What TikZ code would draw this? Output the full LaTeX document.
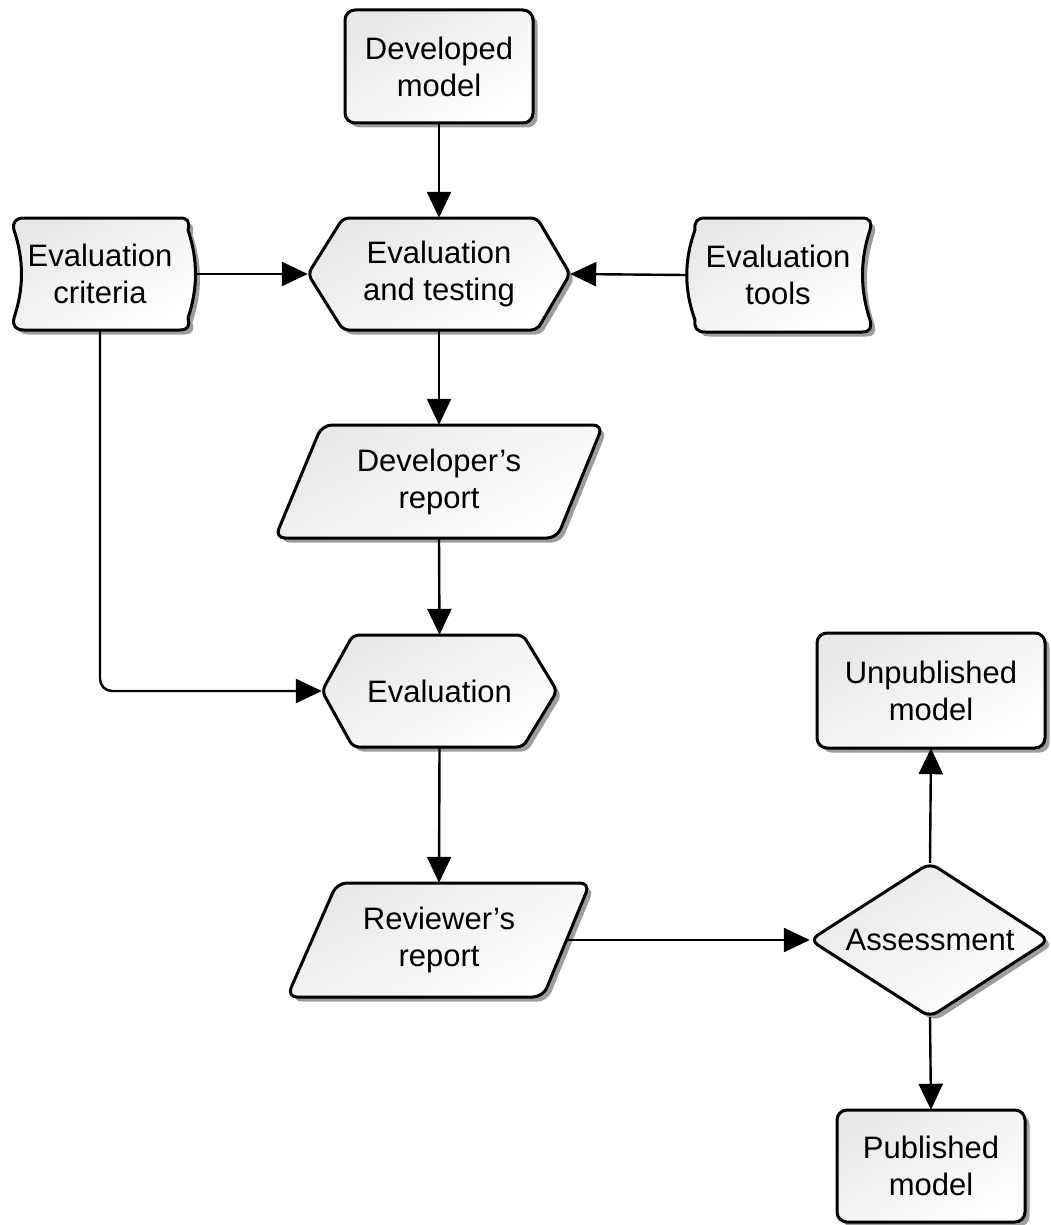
\documentclass[tikz,border=0pt]{standalone}
\usepackage{fontspec}
\setmainfont{Liberation Sans}
\usetikzlibrary{arrows.meta,shadows,calc}
\begin{document}
\begin{tikzpicture}[x=1pt,y=-1pt,
  shp/.style={draw=black, line width=3pt, line join=round,
    top color=black!9, bottom color=white, shading angle=30,
    drop shadow={shadow xshift=4.5pt, shadow yshift=-4.5pt, fill=black!45, opacity=0.85}},
  lbl/.style={font=\fontsize{31}{37}\selectfont, align=center, inner sep=0pt, draw=none},
  conn/.style={line width=2.4pt, -{Triangle[length=26pt,width=24pt]}}
]
\useasboundingbox (0,0) rectangle (1051,1225);

% ---- shapes ----
\path[shp, rounded corners=10pt] (345,10) rectangle (533,123);
\path[shp, rounded corners=6pt] (308,274) -- (343,218) -- (537,218) -- (570,274) -- (537,330) -- (343,330) -- cycle;
\path[shp] (24,218) -- (180,218) .. controls (188,218) and (190,222) .. (188,230)
  .. controls (198,260) and (198,288) .. (188,318) .. controls (190,326) and (188,330) .. (180,330)
  -- (24,330) .. controls (16,330) and (12,326) .. (14,318)
  .. controls (24,288) and (24,260) .. (14,230) .. controls (12,222) and (16,218) .. (24,218) -- cycle;
\path[shp] (705,218) -- (862,218) .. controls (870,218) and (872,222) .. (870,230)
  .. controls (860,260) and (860,290) .. (870,320) .. controls (872,328) and (870,332) .. (862,332)
  -- (705,332) .. controls (697,332) and (694,328) .. (695,320)
  .. controls (684,290) and (684,260) .. (695,230) .. controls (694,222) and (697,218) .. (705,218) -- cycle;
\path[shp, rounded corners=10pt] (322,425) -- (603,425) -- (557,538) -- (275,538) -- cycle;
\path[shp, rounded corners=6pt] (322,691) -- (353,635) -- (523,635) -- (557,691) -- (523,747) -- (353,747) -- cycle;
\path[shp, rounded corners=10pt] (337,883) -- (590,883) -- (543,997) -- (287,997) -- cycle;
\path[shp, rounded corners=9pt] (810,940) -- (930,863) -- (1049,940) -- (930,1017) -- cycle;
\path[shp, rounded corners=10pt] (817,633) rectangle (1045,748);
\path[shp, rounded corners=10pt] (837,1110) rectangle (1025,1222);

% ---- nodes ----
\node[lbl, minimum width=188pt, minimum height=113pt] (dev) at (439,66.5) {Developed\\model};
\node[lbl, minimum width=262pt, minimum height=112pt] (evt) at (439,274) {Evaluation\\and testing};
\node[lbl, minimum width=191pt, minimum height=112pt] (crit) at (100,274) {Evaluation\\criteria};
\node[lbl, minimum width=183pt, minimum height=114pt] (tools) at (778,275) {Evaluation\\tools};
\node[lbl, minimum width=328pt, minimum height=113pt] (drep) at (439,481.5) {Developer’s\\report};
\node[lbl, minimum width=235pt, minimum height=112pt] (eval) at (439.5,691) {Evaluation};
\node[lbl, minimum width=303pt, minimum height=114pt] (rrep) at (439,940) {Reviewer’s\\report};
\coordinate (rrepE) at (567,940);
\node[lbl, minimum width=240pt, minimum height=154pt] (assess) at (930,940) {Assessment};
\node[lbl, minimum width=228pt, minimum height=115pt] (unpub) at (931,690.5) {Unpublished\\model};
\node[lbl, minimum width=188pt, minimum height=112pt] (pub) at (931,1166) {Published\\model};

% ---- connectors ----
\draw[conn] (dev.south) -- (evt.north);
\draw[conn] (crit.east) -- (evt.west);
\draw[conn] (tools.west) -- (evt.east);
\draw[conn] (evt.south) -- (drep.north);
\draw[conn] (drep.south) -- (eval.north);
\draw[conn, rounded corners=12pt] (crit.south) |- (eval.west);
\draw[conn] (eval.south) -- (rrep.north);
\draw[conn] (rrepE) -- (assess.west);
\draw[conn] (assess.north) -- (unpub.south);
\draw[conn] (assess.south) -- (pub.north);
\end{tikzpicture}
\end{document}
